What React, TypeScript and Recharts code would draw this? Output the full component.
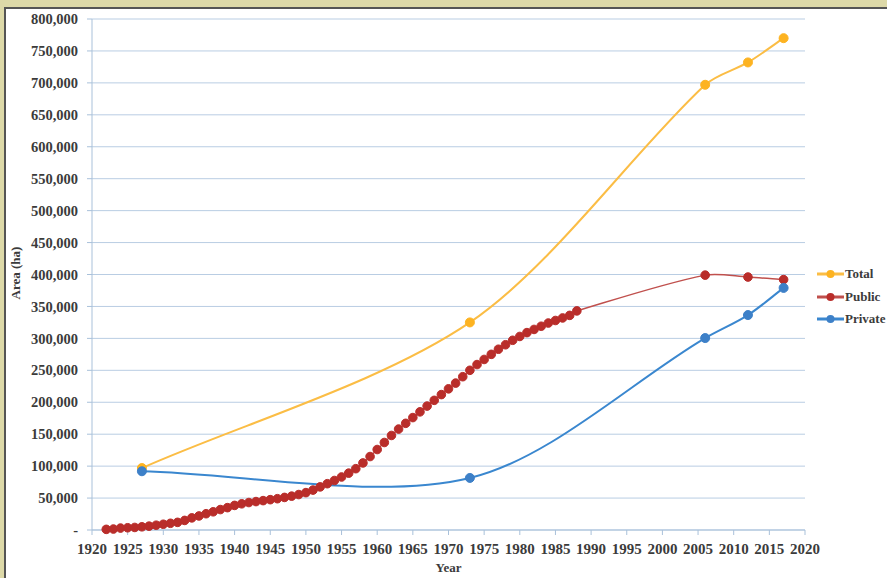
import React from 'react';
import { LineChart, Line, XAxis, YAxis, CartesianGrid } from 'recharts';

// Total and private area: only a few survey years
const totalYears = [1927, 1973, 2006, 2012, 2017];
const totalArea = [97000, 325000, 697000, 732000, 770000];

const privateYears = [1927, 1973, 2006, 2012, 2017];
const privateArea = [92000, 81500, 300500, 336500, 379000];

// Public area: yearly from 1922 to 1988, then three survey years
const publicYears = [
  1922, 1923, 1924, 1925, 1926, 1927, 1928, 1929, 1930, 1931, 1932, 1933, 1934,
  1935, 1936, 1937, 1938, 1939, 1940, 1941, 1942, 1943, 1944, 1945, 1946, 1947,
  1948, 1949, 1950, 1951, 1952, 1953, 1954, 1955, 1956, 1957, 1958, 1959, 1960,
  1961, 1962, 1963, 1964, 1965, 1966, 1967, 1968, 1969, 1970, 1971, 1972, 1973,
  1974, 1975, 1976, 1977, 1978, 1979, 1980, 1981, 1982, 1983, 1984, 1985, 1986,
  1987, 1988, 2006, 2012, 2017,
];
const publicArea = [
  1000, 1500, 3000, 3500, 4000, 5000, 6000, 7500, 9000, 10500, 12000, 15000, 19000,
  22000, 25500, 28500, 32000, 35000, 38500, 41000, 43000, 44500, 46000, 47500, 49000, 51000,
  53000, 55500, 58500, 62500, 67500, 72500, 77500, 83000, 89000, 96000, 105000, 115000, 126000,
  137000, 148000, 158000, 167000, 176000, 185000, 194000, 203000, 212000, 221000, 230000, 240000, 250000,
  259000, 267000, 275000, 283000, 290000, 297000, 303000, 309000, 314000, 319000, 324000, 328000, 332000,
  336000, 343000, 399000, 396000, 392000,
];

const xTicks = [1920, 1925, 1930, 1935, 1940, 1945, 1950, 1955, 1960, 1965, 1970, 1975, 1980, 1985, 1990, 1995, 2000, 2005, 2010, 2015, 2020];
const yTicks = [0, 50000, 100000, 150000, 200000, 250000, 300000, 350000, 400000, 450000, 500000, 550000, 600000, 650000, 700000, 750000, 800000];

const series = [
  { key: 'total', name: 'Total', line: '#fbbd45', dot: '#fdb321', width: 2, r: 4.5 },
  { key: 'public', name: 'Public', line: '#c0504d', dot: '#b92d2a', width: 1.5, r: 4.3 },
  { key: 'private', name: 'Private', line: '#3a87cf', dot: '#3d80c8', width: 2, r: 4.5 },
];

// merge into one table keyed by year
const rowsByYear: Record<number, any> = {};
const put = (years: number[], vals: number[], key: string) =>
  years.forEach((y, i) => {
    rowsByYear[y] = rowsByYear[y] || { year: y };
    rowsByYear[y][key] = vals[i];
  });
put(totalYears, totalArea, 'total');
put(publicYears, publicArea, 'public');
put(privateYears, privateArea, 'private');
const data = Object.values(rowsByYear).sort((a: any, b: any) => a.year - b.year);

// Excel-like smoothed line: tangent follows neighbours, handle length follows the segment
const smooth: any = (context: any) => {
  let xs: number[] = [];
  let ys: number[] = [];
  const k = 0.3;
  const handle = (i: number, n: number, len: number, sign: number) => {
    const a = Math.max(i - 1, 0);
    const b = Math.min(i + 1, n - 1);
    const dx = xs[b] - xs[a];
    const dy = ys[b] - ys[a];
    const d = Math.hypot(dx, dy) || 1;
    return [xs[i] + (sign * dx * len * k) / d, ys[i] + (sign * dy * len * k) / d];
  };
  return {
    areaStart() {},
    areaEnd() {},
    lineStart() {
      xs = [];
      ys = [];
    },
    point(x: number, y: number) {
      xs.push(+x);
      ys.push(+y);
    },
    lineEnd() {
      const n = xs.length;
      if (!n) return;
      context.moveTo(xs[0], ys[0]);
      for (let i = 0; i < n - 1; i++) {
        const len = Math.hypot(xs[i + 1] - xs[i], ys[i + 1] - ys[i]);
        const [c1x, c1y] = handle(i, n, len, 1);
        const [c2x, c2y] = handle(i + 1, n, len, -1);
        context.bezierCurveTo(c1x, c1y, c2x, c2y, xs[i + 1], ys[i + 1]);
      }
    },
  };
};

const font = '"Liberation Serif", "Times New Roman", serif';
const textColor = '#3b3b3b';
const gridColor = '#b9cde3';

const fmt = (v: number) => (v === 0 ? '-' : v.toLocaleString('en-US'));

export default function App() {
  return (
    <div style={{ position: 'absolute', left: 0, top: 0, width: 887, height: 578, background: '#ddd9a8', overflow: 'hidden', fontFamily: font }}>
      <div style={{ position: 'absolute', left: 4, top: 7, right: 0, bottom: 0, background: '#fff', borderTop: '2px solid #555', borderLeft: '2px solid #555' }} />
      <div style={{ position: 'absolute', left: 0, top: 0 }}>
        <LineChart width={887} height={578} data={data} margin={{ top: 19, right: 82, left: 0, bottom: 0 }}>
          <CartesianGrid vertical={false} stroke={gridColor} strokeWidth={1} />
          <XAxis
            dataKey="year"
            type="number"
            domain={[1920, 2020]}
            ticks={xTicks}
            interval={0}
            height={48}
            stroke="#a9c1da"
            tickSize={5}
            tickMargin={8}
            tick={{ fill: textColor, fontSize: 15, fontWeight: 'bold', fontFamily: font }}
            label={{ value: 'Year', position: 'insideBottom', offset: 6, fill: textColor, fontSize: 13, fontWeight: 'bold', fontFamily: font }}
          />
          <YAxis
            type="number"
            domain={[0, 800000]}
            ticks={yTicks}
            interval={0}
            width={92}
            stroke="#a9c1da"
            tickSize={5}
            tickMargin={9}
            tickFormatter={fmt}
            tick={{ fill: textColor, fontSize: 14.5, fontWeight: 'bold', fontFamily: font }}
            label={{
              content: () => (
                <text x={15} y={273} transform="rotate(-90 15 273)" textAnchor="middle" dominantBaseline="central" fill={textColor} fontSize={13} fontWeight="bold" fontFamily={font}>
                  Area (ha)
                </text>
              ),
            }}
          />
          {series.map((s) => (
            <Line
              key={s.key}
              dataKey={s.key}
              name={s.name}
              type={smooth}
              stroke={s.line}
              strokeWidth={s.width}
              connectNulls
              dot={{ r: s.r, fill: s.dot, stroke: s.dot, strokeWidth: 1 }}
              activeDot={false}
              isAnimationActive={false}
            />
          ))}
        </LineChart>
      </div>
      <div style={{ position: 'absolute', left: 817, top: 263 }}>
        {series.map((s) => (
          <div key={s.key} style={{ display: 'flex', alignItems: 'center', height: 22.5 }}>
            <svg width={27} height={12}>
              <line x1={0} y1={6} x2={27} y2={6} stroke={s.line} strokeWidth={3} />
              <circle cx={13.5} cy={6} r={4} fill={s.dot} />
            </svg>
            <span style={{ marginLeft: 1, fontSize: 13, fontWeight: 'bold', color: textColor }}>{s.name}</span>
          </div>
        ))}
      </div>
    </div>
  );
}
